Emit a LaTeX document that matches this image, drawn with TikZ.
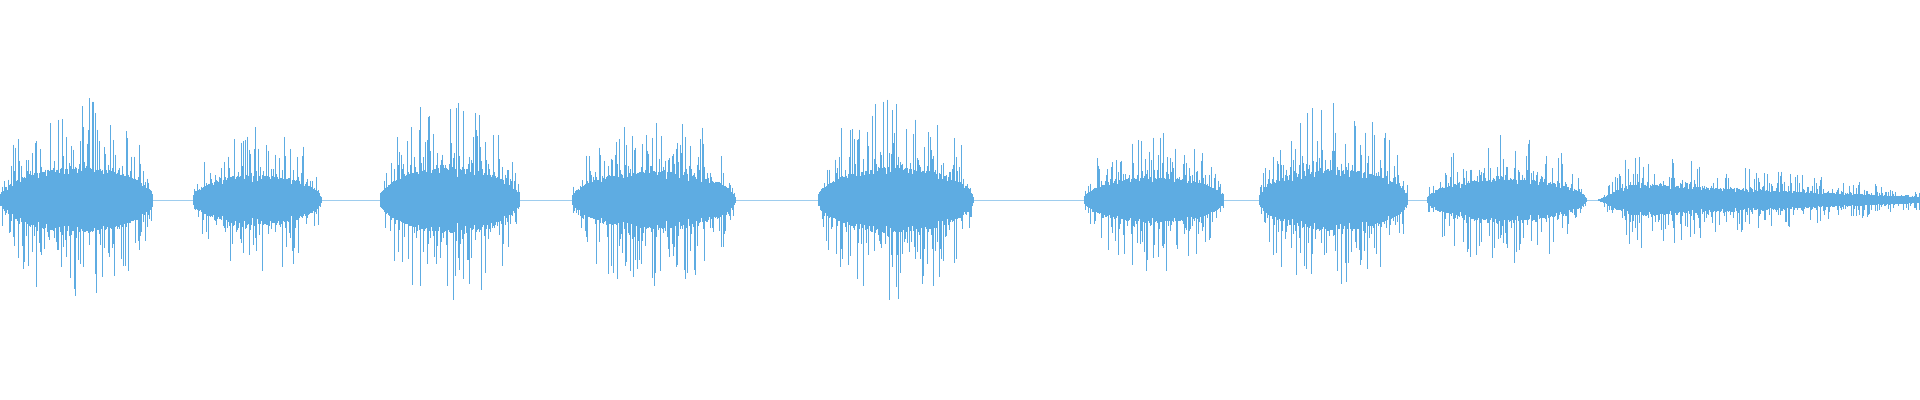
\documentclass[tikz,border=0pt]{standalone}
\usepackage{tikz}
\definecolor{wave}{RGB}{94,172,226}
\tikzset{spike/.style={draw=wave,line width=0.3pt},
  core/.style={draw=wave,line width=1.1pt}}
\begin{document}
\begin{tikzpicture}[x=0.5pt,y=0.5pt]
\useasboundingbox (0,0) rectangle (1920,400);
\pgfmathsetseed{7}
% quiet baseline
\draw[spike,draw opacity=0.6] (0,200) -- (1920,200);
% bursts: start, end, amplitude, decay
\foreach \s/\e/\a/\d in {0/153/104/0, 193/321/80/0, 380/520/104/0, 572/735/92/0,
  818/973/104/0, 1084/1224/73/0, 1259/1408/98/0, 1427/1586/67/0, 1598/1920/50/1}{
  \pgfmathsetmacro{\nx}{\s+1.3}
  \foreach \x in {\s,\nx,...,\e}{
    \pgfmathsetmacro{\t}{(\x-\s)/(\e-\s)}
    \ifnum\d=0
      \pgfmathsetmacro{\env}{sin(180*\t)^0.45}
    \else
      \pgfmathsetmacro{\env}{min(\t*10,1)*(1-0.8*max(\t-0.1,0)/0.9)}
    \fi
    \pgfmathsetmacro{\up}{\a*\env*(0.3+0.7*rnd^3)}
    \pgfmathsetmacro{\dn}{\a*\env*(0.3+0.7*rnd^3)}
    \draw[spike] (\x,200+\up) -- (\x,200-\dn);
    \pgfmathsetmacro{\c}{\a*\env*(0.22+0.1*rnd)}
    \draw[core] (\x,200+\c) -- (\x,200-\c);
  }
}
\end{tikzpicture}
\end{document}
